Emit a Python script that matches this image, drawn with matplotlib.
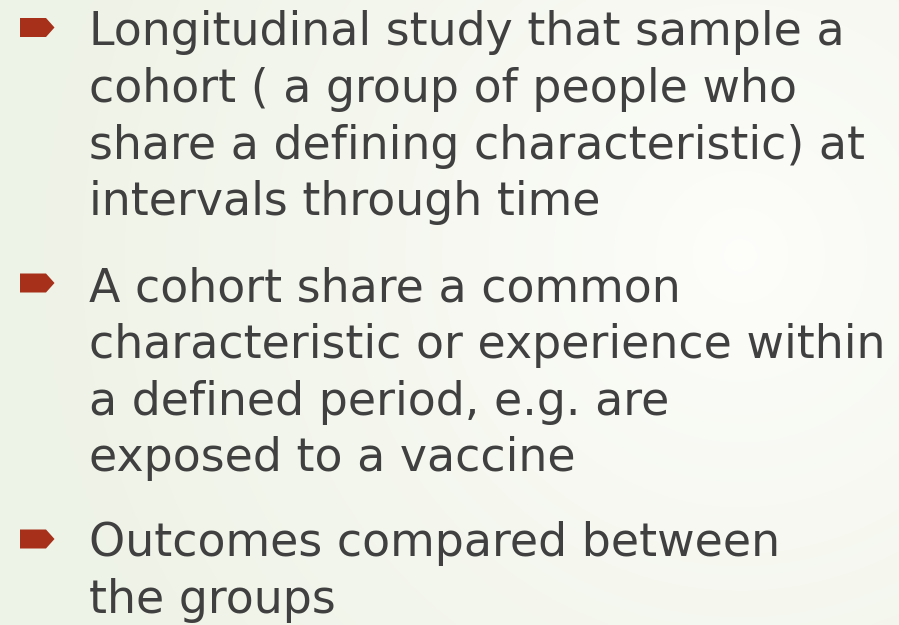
import numpy as np
import matplotlib.pyplot as plt
from matplotlib.patches import Polygon

# slide content
bullets = [
    ["Longitudinal study that sample a",
     "cohort ( a group of people who",
     "share a defining characteristic) at",
     "intervals through time"],
    ["A cohort share a common",
     "characteristic or experience within",
     "a defined period, e.g. are",
     "exposed to a vaccine"],
    ["Outcomes compared between",
     "the groups"],
]
first_baseline = [45, 301, 556]   # pixel baseline of each bullet's first line
bullet_mid = [27.5, 283, 539]
line_step = 56.8

W, H = 899, 625
fig = plt.figure(figsize=(W / 100, H / 100), dpi=100)
ax = fig.add_axes([0, 0, 1, 1])
ax.set_xlim(0, W)
ax.set_ylim(H, 0)
ax.axis('off')

# background: pale green with a soft white glow on the right
yy, xx = np.mgrid[0:H, 0:W]
r = np.sqrt((xx - 740) ** 2 + (yy - 255) ** 2)
t = np.clip(r / 700, 0, 1)
edge = np.array([0.937, 0.953, 0.906])
centre = np.array([0.995, 0.995, 0.985])
img = centre + (edge - centre) * t[..., None] ** 0.8
ax.imshow(img, extent=[0, W, H, 0], zorder=0)

for lines, y0, ym in zip(bullets, first_baseline, bullet_mid):
    # arrow-shaped bullet
    ax.add_patch(Polygon([[20, ym - 9.5], [46, ym - 9.5], [54.5, ym], [46, ym + 9.5], [20, ym + 9.5]],
                         closed=True, facecolor='#A63019', lw=0, zorder=2))
    for i, s in enumerate(lines):
        ax.text(89, y0 + i * line_step, s, fontsize=33, color='#404040',
                family='DejaVu Sans', va='baseline', ha='left', zorder=3)

fig.savefig('out.png', dpi=100)
